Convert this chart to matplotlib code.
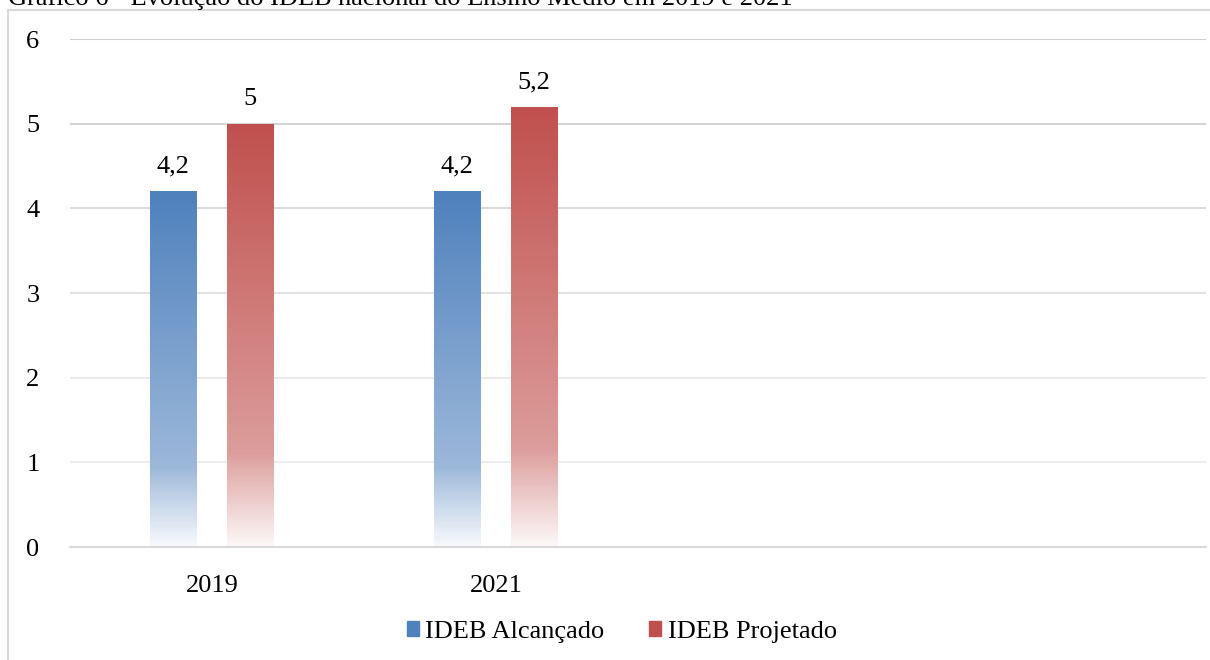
import numpy as np
import matplotlib.pyplot as plt
from matplotlib.patches import Rectangle
from matplotlib.colors import LinearSegmentedColormap

# Data
categories = ["2019", "2021", "", ""]
alcancado = [4.2, 4.2]
projetado = [5.0, 5.2]
labels_alc = ["4,2", "4,2"]
labels_proj = ["5", "5,2"]
series_names = ["IDEB Alcançado", "IDEB Projetado"]

blue = "#4F81BD"
red = "#C0504D"
fs = 19

plt.rcParams['font.family'] = ['Liberation Serif', 'DejaVu Serif']

fig = plt.figure(figsize=(12.1, 6.6), dpi=100)
ax = fig.add_axes([70 / 1210, 1 - 547 / 660, 1136 / 1210, 508 / 660])

# outer frame of the chart area (partially cut off)
frame = Rectangle((8 / 1210, -0.1), 1.2, 1 - 10 / 660 + 0.1, transform=fig.transFigure,
                  fill=False, edgecolor="#D9D9D9", linewidth=1.5)
fig.patches.append(frame)

# title, cut at the top edge
fig.text(8 / 1210, 1 - 5 / 660, "Gráfico 6 - Evolução do IDEB nacional do Ensino Médio em 2019 e 2021",
         fontsize=fs, ha="left", va="baseline")


def gradient_bar(ax, x, h, width, color):
    cmap = LinearSegmentedColormap.from_list("g", [(1, 1, 1, 1), color])
    bar = ax.bar(x, h, width=width, color="none", edgecolor="none")[0]
    t = np.linspace(0, 1, 256)
    grad = np.interp(t, [0, 0.2, 0.22, 1], [0.04, 0.5, 0.56, 1.0]).reshape(-1, 1)
    img = ax.imshow(grad, cmap=cmap, aspect="auto", origin="lower",
                    extent=[x - width / 2, x + width / 2, 0, h], vmin=0, vmax=1, zorder=2)
    img.set_clip_path(bar)
    return bar


width = 0.162
off_a = -0.137
off_p = 0.134
for i in range(len(alcancado)):
    gradient_bar(ax, i + off_a, alcancado[i], width, blue)
    gradient_bar(ax, i + off_p, projetado[i], width, red)
    ax.text(i + off_a, alcancado[i] + 0.16, labels_alc[i], ha="center", va="bottom", fontsize=fs)
    ax.text(i + off_p, projetado[i] + 0.16, labels_proj[i], ha="center", va="bottom", fontsize=fs)

ax.set_xlim(-0.5, len(categories) - 0.5)
ax.set_ylim(0, 6)
ax.set_xticks(range(len(categories)))
ax.set_xticklabels(categories, fontsize=fs)
ax.set_yticks(range(0, 7))
ax.set_yticklabels([str(v) for v in range(0, 7)], fontsize=fs)
ax.tick_params(length=0)
ax.tick_params(axis="x", pad=20)
ax.tick_params(axis="y", pad=22)
ax.set_axisbelow(True)

# gridlines, lighter towards the bottom
grid_colors = ["#EDEDED", "#EBEBEB", "#E3E3E3", "#DCDCDC", "#D4D4D4", "#CFCFCF"]
for v, c in zip(range(1, 7), grid_colors):
    ax.axhline(v, color=c, linewidth=1.5, zorder=0)

for s in ["top", "right", "left"]:
    ax.spines[s].set_visible(False)
ax.spines["bottom"].set_color("#D9D9D9")
ax.spines["bottom"].set_linewidth(1.5)

handles = [Rectangle((0, 0), 1, 1, color=blue), Rectangle((0, 0), 1, 1, color=red)]
fig.legend(handles, series_names, loc="center", bbox_to_anchor=(622 / 1210, 1 - 632 / 660),
           ncol=2, frameon=False, fontsize=fs, handlelength=0.45, handleheight=0.5,
           handletextpad=0.25, columnspacing=1.7)

fig.savefig("out.png", dpi=100)
